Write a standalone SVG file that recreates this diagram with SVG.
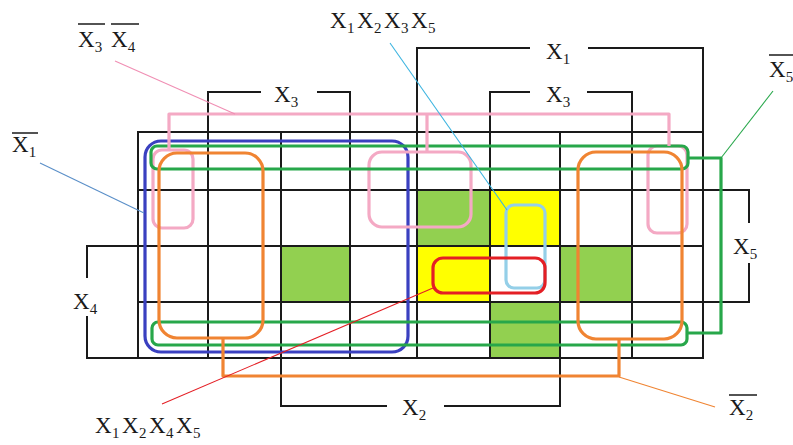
<svg xmlns="http://www.w3.org/2000/svg" width="793" height="445" viewBox="0 0 793 445">
  <style>
    .grid { stroke: #1a1a1a; stroke-width: 2; fill: none; stroke-linecap: square; }
    .loop { fill: none; stroke-width: 3.2; stroke-linejoin: round; }
    .lead { fill: none; stroke-width: 1.1; }
    .lbl { font-family: "Liberation Serif", "DejaVu Serif", serif; font-size: 23px; fill: #1a1a1a; }
    .sub { font-size: 15px; }
    .bar { stroke: #1a1a1a; stroke-width: 1.5; }
    .blue { stroke: #3a40c0; }
    .orange { stroke: #f08432; }
    .green { stroke: #27a74a; }
    .pink { stroke: #f4a9c4; }
    .cyan { stroke: #94cfe8; }
    .red { stroke: #e41f25; }
  </style>
  <rect width="793" height="445" fill="#ffffff"/>

  <!-- filled cells -->
  <g id="cells">
    <rect x="417" y="190" width="73" height="56" fill="#92d050"/>
    <rect x="490" y="190" width="70" height="56" fill="#ffff00"/>
    <rect x="281" y="246" width="69" height="56" fill="#92d050"/>
    <rect x="417" y="246" width="73" height="56" fill="#ffff00"/>
    <rect x="560" y="246" width="72" height="56" fill="#92d050"/>
    <rect x="490" y="302" width="70" height="56" fill="#92d050"/>
  </g>

  <!-- map grid and variable brackets -->
  <g id="grid" class="grid">
    <path d="M138,132 V358 M208,92 V358 M281,132 V406 M350,92 V358 M417,48 V358 M490,92 V358 M560,132 V406 M632,92 V358 M703,48 V358"/>
    <path d="M138,132 H703 M138,190 H749 M87,246 H703 M138,302 H749 M87,358 H703"/>
    <path d="M208,92 H260 M318,92 H350"/>
    <path d="M490,92 H529 M588,92 H632"/>
    <path d="M417,48 H529 M589,48 H703"/>
    <path d="M87,246 V277 M87,317 V358"/>
    <path d="M749,190 V222 M749,264 V302"/>
    <path d="M281,406 H386 M445,406 H560"/>
  </g>

  <!-- groupings -->
  <g id="group-x1bar">
    <rect class="loop blue" x="145" y="141" width="263" height="211" rx="16"/>
  </g>
  <g id="group-x3bar-x4bar">
    <rect class="loop pink" x="153" y="150" width="40" height="78" rx="9"/>
    <rect class="loop pink" x="369" y="152" width="102" height="75" rx="13"/>
    <rect class="loop pink" x="648" y="146" width="39" height="87" rx="9"/>
  </g>
  <g id="group-x5bar">
    <rect class="loop green" x="151" y="146" width="537" height="23" rx="6"/>
    <rect class="loop green" x="152" y="322" width="535" height="23" rx="6"/>
  </g>
  <g id="group-x2bar">
    <rect class="loop orange" x="159" y="153" width="104" height="185" rx="18"/>
    <rect class="loop orange" x="578" y="152" width="104" height="187" rx="18"/>
  </g>
  <g id="group-x1x2x3x5">
    <rect class="loop cyan" x="506" y="205" width="39" height="83" rx="8"/>
  </g>
  <g id="group-x1x2x4x5">
    <rect class="loop red" x="433" y="258" width="112" height="35" rx="10"/>
  </g>

  <!-- links between group parts, and label leaders -->
  <g id="connectors">
    <path class="loop pink" d="M169,150 V114 H669 V146 M427,114 V152"/>
    <path class="loop green" d="M688,158 H721 V333 H687"/>
    <path class="loop orange" d="M223,338 V376 H619 V339"/>
    <path class="lead" stroke="#5a8fc8" d="M40,163 L144,213"/>
    <path class="lead" stroke="#f08fb4" d="M115,61 L235,114"/>
    <path class="lead" stroke="#3cb4e0" d="M390,43 L507,210"/>
    <path class="lead" stroke="#e41f25" d="M162,404 L433,288"/>
    <path class="lead" stroke="#f08432" d="M619,377 L715,407"/>
    <path class="lead" stroke="#27a74a" d="M721,158 L773,91"/>
  </g>

  <!-- variable labels -->
  <g id="labels">
    <text class="lbl" x="546" y="59">X<tspan class="sub" dy="5">1</tspan></text>
    <text class="lbl" x="274" y="102">X<tspan class="sub" dy="5">3</tspan></text>
    <text class="lbl" x="546" y="102">X<tspan class="sub" dy="5">3</tspan></text>
    <text class="lbl" x="73" y="309">X<tspan class="sub" dy="5">4</tspan></text>
    <text class="lbl" x="733" y="254">X<tspan class="sub" dy="5">5</tspan></text>
    <text class="lbl" x="402" y="415">X<tspan class="sub" dy="5">2</tspan></text>

    <g id="label-x1bar">
      <text class="lbl" x="12" y="152">X<tspan class="sub" dy="5">1</tspan></text>
      <line class="bar" x1="12" y1="133" x2="38" y2="133"/>
    </g>
    <g id="label-x3bar-x4bar">
      <text class="lbl" x="78" y="47">X<tspan class="sub" dy="5">3</tspan></text>
      <text class="lbl" x="111" y="47">X<tspan class="sub" dy="5">4</tspan></text>
      <line class="bar" x1="78" y1="24" x2="105" y2="24"/>
      <line class="bar" x1="111" y1="24" x2="139" y2="24"/>
    </g>
    <g id="label-x5bar">
      <text class="lbl" x="769" y="77">X<tspan class="sub" dy="5">5</tspan></text>
      <line class="bar" x1="769" y1="55" x2="795" y2="55"/>
    </g>
    <g id="label-x2bar">
      <text class="lbl" x="729" y="415">X<tspan class="sub" dy="5">2</tspan></text>
      <line class="bar" x1="729" y1="395" x2="757" y2="395"/>
    </g>
    <text id="label-x1x2x3x5" class="lbl" y="28"><tspan x="330">X</tspan><tspan class="sub" x="347" dy="5">1</tspan><tspan x="357" dy="-5">X</tspan><tspan class="sub" x="374" dy="5">2</tspan><tspan x="384" dy="-5">X</tspan><tspan class="sub" x="401" dy="5">3</tspan><tspan x="411" dy="-5">X</tspan><tspan class="sub" x="428" dy="5">5</tspan></text>
    <text id="label-x1x2x4x5" class="lbl" y="433"><tspan x="95">X</tspan><tspan class="sub" x="112" dy="5">1</tspan><tspan x="122" dy="-5">X</tspan><tspan class="sub" x="139" dy="5">2</tspan><tspan x="149" dy="-5">X</tspan><tspan class="sub" x="166" dy="5">4</tspan><tspan x="176" dy="-5">X</tspan><tspan class="sub" x="193" dy="5">5</tspan></text>
  </g>
</svg>
